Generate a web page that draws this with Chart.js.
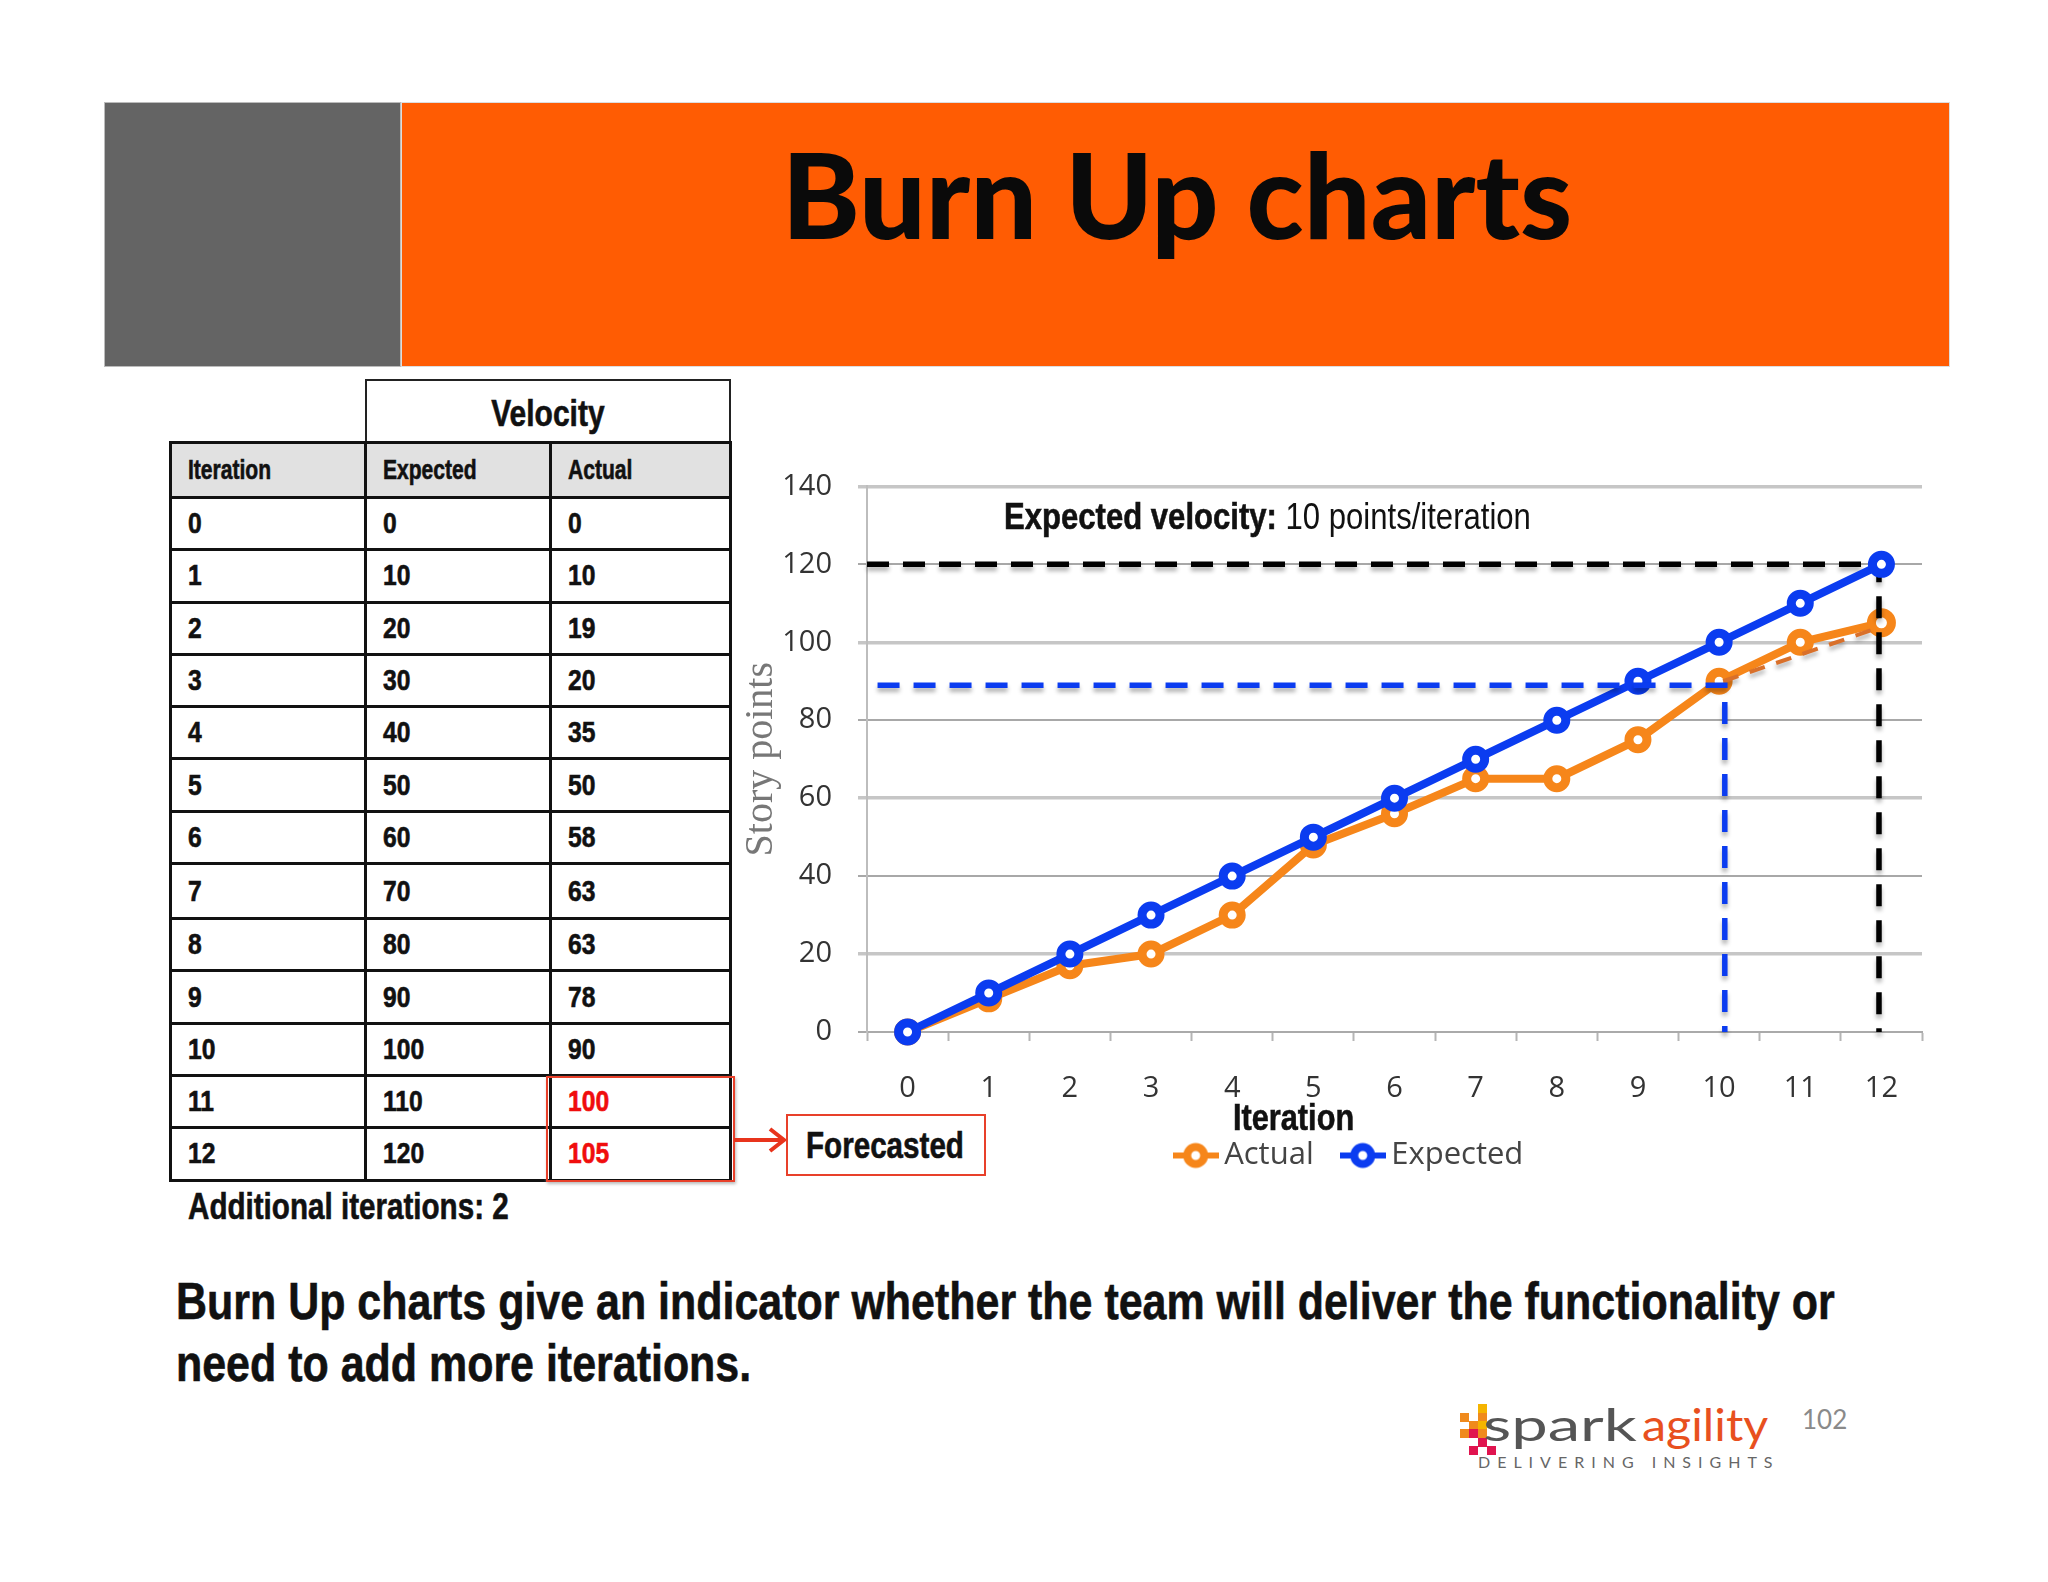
<!DOCTYPE html>
<html>

<head>
    <title>Burn Up charts</title>
    <script src="https://cdn.jsdelivr.net/npm/chart.js@4/dist/chart.umd.min.js"></script>
    <style>
        html, body { margin: 0; padding: 0; background: #fff; }
        #slide { position: relative; width: 2048px; height: 1582px; overflow: hidden; font-family: "Liberation Sans", sans-serif; }
        .abs { position: absolute; white-space: nowrap; }
        /* no condensed face is installed, so the bold text is squeezed */
        .narrow { display: inline-block; transform-origin: left center; font-weight: bold; -webkit-text-stroke: 0.6px #111; color: #111; }
        #greyBar { left: 104px; top: 102px; width: 297px; height: 265px; background: #646464; box-sizing: border-box; border: 1px solid #bbb; }
        #orangeBar { left: 401px; top: 102px; width: 1549px; height: 265px; background: #ff5c03; box-sizing: border-box; border: 1px solid #ddd; }
        #title { left: 401px; width: 1552px; top: 123px; text-align: center; font: 900 118px Lato, sans-serif; color: #0a0a0a; }
        #velocity { left: 365px; top: 379px; width: 366px; height: 63px; box-sizing: border-box; border: 2px solid #222; border-bottom: none; text-align: center; font-size: 37px; line-height: 66px; }
        #velocity .narrow { transform: scaleX(0.81); transform-origin: center center; }
        #velocityTable { position: absolute; left: 169px; top: 441px; border-collapse: collapse; table-layout: fixed; width: 560px; font-size: 29px; }
        #velocityTable td { border: 3px solid #111; padding: 0 0 0 16px; height: 52.3px; box-sizing: border-box; }
        #velocityTable td .narrow { transform: scaleX(0.85); }
        #velocityTable tr.head td { background: #e1e1e1; height: 55px; font-size: 27px; }
        #velocityTable tr.head td .narrow { transform: scaleX(0.78); }
        #velocityTable tr.tall td { height: 55px; }
        #velocityTable td.forecast .narrow { color: #f00d0d; -webkit-text-stroke: 0.6px #f00d0d; }
        #forecastFrame { left: 546px; top: 1076px; width: 189px; height: 106px; box-sizing: border-box; border: 2px solid #e8402a; box-shadow: 1px 2px 3px #bbb; }
        #forecastLabel { left: 786px; top: 1114px; width: 200px; height: 62px; box-sizing: border-box; border: 2px solid #e8402a; font-size: 37px; line-height: 60px; padding-left: 18px; }
        #forecastLabel .narrow { transform: scaleX(0.8); }
        #additional { left: 188px; top: 1186px; font-size: 37px; }
        #additional .narrow { transform: scaleX(0.8); }
        #summary { left: 176px; top: 1270px; font-size: 52px; line-height: 62px; }
        #summary .narrow { transform: scaleX(0.826); }
        #chartBox { position: absolute; left: 735px; top: 443px; }
        #velocityNote { left: 1004px; top: 496px; font-size: 37px; color: #111; transform: scaleX(0.84); transform-origin: left center; }
        #velocityNote b { -webkit-text-stroke: 0.6px #111; }
        #xTitle { left: 1233px; top: 1097px; font-size: 37px; }
        #xTitle .narrow { transform: scaleX(0.83); }
        #pageNo { left: 1802px; top: 1403px; font: 26px Lato, sans-serif; color: #8a8a8a; }
        .pix { position: absolute; width: 9px; height: 9px; }
        #logoA { left: 1483px; top: 1398px; font: 400 44px Lato, sans-serif; color: #555; transform: scaleX(1.48); transform-origin: left center; }
        #logoB { left: 1642px; top: 1398px; font: 400 44px Lato, sans-serif; color: #e8501e; transform: scaleX(1.1); transform-origin: left center; }
        #logoC { left: 1478px; top: 1452px; font: 16px Lato, sans-serif; color: #666; letter-spacing: 7px; }
    </style>
</head>

<body>
    <div id="slide">
        <div class="abs" id="greyBar"></div>
        <div class="abs" id="orangeBar"></div>
        <div class="abs" id="title">Burn Up charts</div>

        <div class="abs" id="velocity"><span class="narrow">Velocity</span></div>
        <table id="velocityTable">
            <colgroup><col style="width:195px"><col style="width:185px"><col style="width:180px"></colgroup>
            <tbody id="tableBody"></tbody>
        </table>
        <div class="abs" id="forecastFrame"></div>
        <svg class="abs" style="left:732px;top:1122px" width="58" height="36">
            <path d="M2 18 H50 M38 7 L52 18 L38 29" fill="none" stroke="#e8341c" stroke-width="4"></path>
        </svg>
        <div class="abs" id="forecastLabel"><span class="narrow">Forecasted</span></div>
        <div class="abs" id="additional"><span class="narrow">Additional iterations: 2</span></div>

        <div id="chartBox"><canvas id="burnUp" width="1236" height="738"></canvas></div>
        <div class="abs" id="velocityNote"><b>Expected velocity:</b> 10 points/iteration</div>
        <div class="abs" id="xTitle"><span class="narrow">Iteration</span></div>

        <div class="abs" id="summary"><span class="narrow">Burn Up charts give an indicator whether the team will deliver the functionality or<br>need to add more iterations.</span></div>

        <div id="logoPixels"></div>
        <div class="abs" id="logoA">spark</div>
        <div class="abs" id="logoB">agility</div>
        <div class="abs" id="logoC">DELIVERING INSIGHTS</div>
        <div class="abs" id="pageNo">102</div>
    </div>
</body>
<script>
    // table values
    const iterations = [0, 1, 2, 3, 4, 5, 6, 7, 8, 9, 10, 11, 12];
    const expectedPoints = [0, 10, 20, 30, 40, 50, 60, 70, 80, 90, 100, 110, 120];
    const tableActual = [0, 10, 19, 20, 35, 50, 58, 63, 63, 78, 90, 100, 105];

    // the plotted actual line does not follow the table exactly
    const plottedActual = [0, 8.5, 17, 20, 30, 48, 56, 65, 65, 75, 90, 100, 105];

    // dashed guide lines, in chart units
    const targetGuideX = [-0.5, 11.97, 11.97];
    const targetGuideY = [120, 120, 0];
    const reachedGuideX = [-0.37, 10.07, 10.07];
    const reachedGuideY = [89, 89, 0];
    const trendGuideX = [10.05, 12];
    const trendGuideY = [90, 104];

    const yTicks = [0, 20, 40, 60, 80, 100, 120, 140];

    const orange = '#f6861a';
    const blue = '#0b3cf0';
    const tickFont = { family: '"Open Sans"', size: 29 };

    // build the table
    const tableBody = document.getElementById('tableBody');
    function addRow(cells, className) {
        const row = document.createElement('tr');
        if (className) row.className = className;
        cells.forEach((text) => {
            const cell = document.createElement('td');
            const span = document.createElement('span');
            span.className = 'narrow';
            span.textContent = text;
            cell.appendChild(span);
            row.appendChild(cell);
        });
        tableBody.appendChild(row);
        return row;
    }
    addRow(['Iteration', 'Expected', 'Actual'], 'head');
    iterations.forEach((iteration, i) => {
        const row = addRow([iteration, expectedPoints[i], tableActual[i]], iteration === 7 ? 'tall' : '');
        if (iteration >= 11) row.lastChild.className = 'forecast';
    });

    // logo squares
    const logoSquares = [
        [1478, 1404, '#f5b400'], [1460, 1413, '#f08a1c'], [1478, 1413, '#f08a1c'], [1469, 1421, '#f08a1c'],
        [1478, 1421, '#f5b400'], [1460, 1429, '#f08a1c'], [1469, 1429, '#e0144f'], [1478, 1429, '#f08a1c'],
        [1478, 1438, '#e0144f'], [1469, 1446, '#e0144f'], [1487, 1446, '#e0144f']
    ];
    const logoPixels = document.getElementById('logoPixels');
    logoSquares.forEach(([x, y, color]) => {
        const square = document.createElement('div');
        square.className = 'pix';
        square.style.left = x + 'px';
        square.style.top = y + 'px';
        square.style.background = color;
        logoPixels.appendChild(square);
    });

    function toPoints(xs, ys) {
        return xs.map((x, i) => ({ x: x, y: ys[i] }));
    }

    // legend marker: short line with a ring on it
    function legendMarker(color) {
        const marker = document.createElement('canvas');
        marker.width = 46;
        marker.height = 30;
        const ctx = marker.getContext('2d');
        ctx.strokeStyle = color;
        ctx.lineWidth = 6;
        ctx.beginPath();
        ctx.moveTo(0, 15);
        ctx.lineTo(46, 15);
        ctx.stroke();
        ctx.fillStyle = '#fff';
        ctx.lineWidth = 8;
        ctx.beginPath();
        ctx.arc(23, 15, 8.5, 0, Math.PI * 2);
        ctx.fill();
        ctx.stroke();
        return marker;
    }

    function seriesLine(label, values, color, order) {
        return {
            label: label,
            data: toPoints(iterations, values),
            borderColor: color,
            backgroundColor: '#fff',
            borderWidth: 8,
            pointRadius: (ctx) => (label === 'Actual' && ctx.dataIndex === 12) ? 10 : 9,
            pointBorderWidth: 9,
            pointBackgroundColor: '#fff',
            pointBorderColor: color,
            clip: false,
            order: order
        };
    }

    function guideLine(label, xs, ys, color, width, dash, order) {
        return {
            label: label,
            data: toPoints(xs, ys),
            borderColor: color,
            borderWidth: width,
            borderDash: dash,
            pointRadius: 0,
            clip: false,
            isGuide: true,
            order: order
        };
    }

    // soft shadow under the hand drawn dashed lines
    const guideShadow = {
        id: 'guideShadow',
        beforeDatasetDraw(chart, args) {
            if (!chart.data.datasets[args.index].isGuide) return;
            const ctx = chart.ctx;
            ctx.save();
            ctx.shadowColor = 'rgba(0,0,0,0.3)';
            ctx.shadowBlur = 4;
            ctx.shadowOffsetY = 4;
        },
        afterDatasetDraw(chart, args) {
            if (chart.data.datasets[args.index].isGuide) chart.ctx.restore();
        }
    };

    const burnUp = new Chart(document.getElementById('burnUp'), {
        type: 'line',
        plugins: [guideShadow],
        data: {
            datasets: [
                seriesLine('Actual', plottedActual, orange, 4),
                seriesLine('Expected', expectedPoints, blue, 1),
                guideLine('Target', targetGuideX, targetGuideY, '#000', 5.5, [22, 14], 2),
                guideLine('Reached', reachedGuideX, reachedGuideY, blue, 5.5, [22, 14], 0),
                guideLine('Trend', trendGuideX, trendGuideY, '#d9702a', 4, [16, 12], 3)
            ]
        },
        options: {
            responsive: false,
            animation: false,
            layout: { padding: { top: 35, left: 0, right: 0, bottom: 0 } },
            plugins: {
                tooltip: { enabled: false },
                legend: {
                    position: 'bottom',
                    labels: {
                        usePointStyle: true,
                        pointStyleWidth: 26,
                        padding: 36,
                        color: '#444',
                        font: { family: '"Open Sans"', size: 31 },
                        generateLabels: () => [
                            { text: 'Actual', pointStyle: legendMarker(orange), fontColor: '#444', lineWidth: 0, strokeStyle: 'transparent', fillStyle: 'transparent' },
                            { text: 'Expected', pointStyle: legendMarker(blue), fontColor: '#444', lineWidth: 0, strokeStyle: 'transparent', fillStyle: 'transparent' }
                        ]
                    }
                }
            },
            scales: {
                x: {
                    type: 'linear',
                    min: -0.5,
                    max: 12.5,
                    afterBuildTicks: (scale) => {
                        // tick marks sit between the iterations, labels on them
                        const ticks = [];
                        iterations.forEach((iteration) => {
                            ticks.push({ value: iteration - 0.5 }, { value: iteration });
                        });
                        ticks.push({ value: 12.5 });
                        scale.ticks = ticks;
                    },
                    afterFit: (scale) => { scale.height = 72; },
                    grid: {
                        drawOnChartArea: false,
                        tickLength: 9,
                        tickWidth: 2,
                        tickColor: (ctx) => Number.isInteger(ctx.tick.value) ? 'transparent' : '#b5b5b5'
                    },
                    border: { color: '#aaa', width: 2 },
                    ticks: {
                        autoSkip: false,
                        maxRotation: 0,
                        padding: 30,
                        color: '#333',
                        font: tickFont,
                        callback: (value) => Number.isInteger(value) ? String(value) : ''
                    }
                },
                y: {
                    min: 0,
                    max: 140,
                    afterBuildTicks: (scale) => {
                        scale.ticks = yTicks.map((v) => ({ value: v }));
                    },
                    afterFit: (scale) => { scale.width = 132; },
                    title: {
                        display: true,
                        text: 'Story points',
                        color: '#777',
                        font: { family: '"Liberation Serif"', size: 40 },
                        padding: { top: 2, bottom: 0 }
                    },
                    grid: {
                        color: (ctx) => ctx.tick.value % 40 === 0 ? '#a8a8a8' : '#c6c6c6',
                        lineWidth: (ctx) => ctx.tick.value % 40 === 0 ? 2 : 3.5,
                        tickLength: 9
                    },
                    border: { color: '#bdbdbd', width: 2 },
                    ticks: { padding: 26, color: '#333', font: tickFont }
                },
                // empty axis, only keeps the legend centred where it is on the slide
                spacer: {
                    position: 'right',
                    min: 0,
                    max: 1,
                    afterFit: (scale) => { scale.width = 49; },
                    grid: { display: false },
                    border: { display: false },
                    ticks: { display: false }
                }
            }
        }
    });
</script>

</html>
